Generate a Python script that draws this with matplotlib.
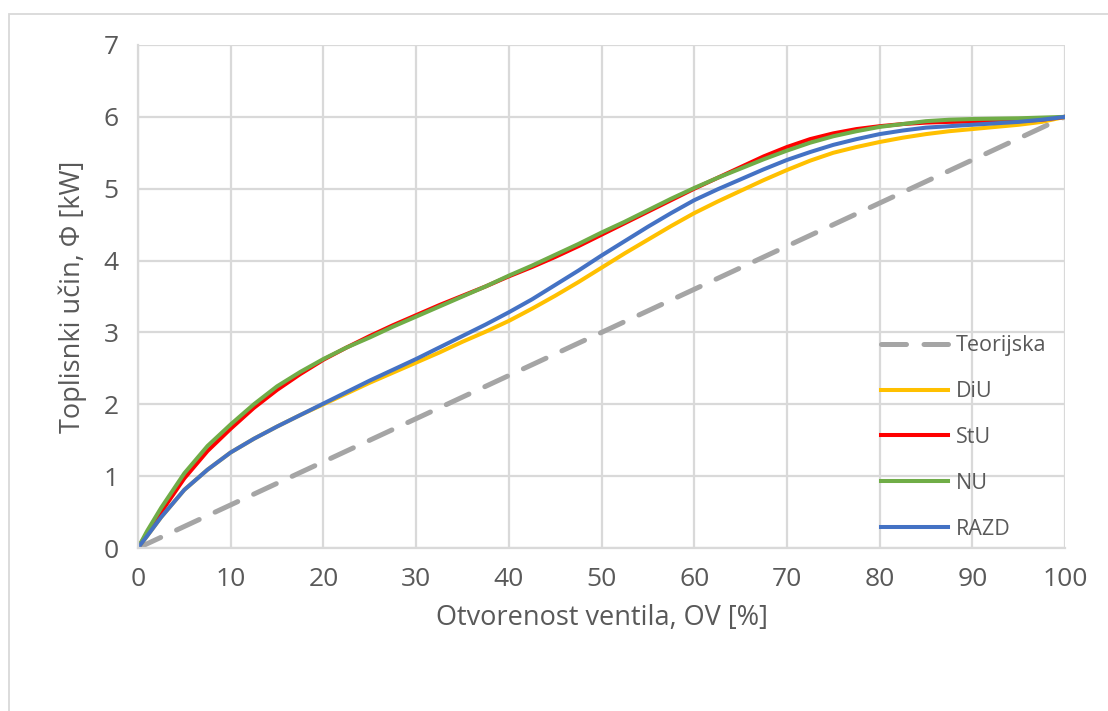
import matplotlib
matplotlib.use("Agg")
import matplotlib.pyplot as plt
from matplotlib.patches import Rectangle

plt.rcParams["font.family"] = ["Open Sans", "DejaVu Sans"]

# otvorenost ventila [%]
ov = [0, 1, 2.5, 5, 7.5, 10, 12.5, 15, 17.5, 20, 22.5, 25, 27.5, 30, 32.5,
      35, 37.5, 40, 42.5, 45, 47.5, 50, 52.5, 55, 57.5, 60, 62.5, 65, 67.5,
      70, 72.5, 75, 77.5, 80, 82.5, 85, 87.5, 90, 92.5, 95, 97.5, 100]

# toplinski ucin [kW]
teorijska_ov = [0, 100]
teorijska = [0, 6]
diu = [0, 0.17, 0.43, 0.81, 1.09, 1.33, 1.52, 1.69, 1.85, 2.00, 2.15, 2.30,
       2.44, 2.58, 2.72, 2.87, 3.01, 3.16, 3.33, 3.51, 3.70, 3.90, 4.10, 4.29,
       4.48, 4.66, 4.82, 4.97, 5.12, 5.26, 5.39, 5.50, 5.58, 5.65, 5.71, 5.76,
       5.80, 5.83, 5.86, 5.89, 5.93, 6.00]
stu = [0, 0.21, 0.50, 0.97, 1.35, 1.66, 1.95, 2.20, 2.42, 2.62, 2.79, 2.95,
       3.10, 3.24, 3.38, 3.51, 3.64, 3.78, 3.91, 4.05, 4.20, 4.36, 4.52, 4.68,
       4.84, 5.00, 5.15, 5.30, 5.45, 5.58, 5.69, 5.77, 5.83, 5.87, 5.90, 5.92,
       5.93, 5.935, 5.94, 5.94, 5.96, 6.00]
nu = [0, 0.24, 0.56, 1.04, 1.42, 1.72, 2.00, 2.25, 2.45, 2.63, 2.79, 2.93,
      3.08, 3.22, 3.36, 3.50, 3.64, 3.79, 3.93, 4.08, 4.23, 4.39, 4.54, 4.70,
      4.86, 5.01, 5.15, 5.28, 5.41, 5.53, 5.64, 5.73, 5.80, 5.86, 5.90, 5.94,
      5.96, 5.97, 5.975, 5.98, 5.99, 6.00]
razd = [0, 0.17, 0.43, 0.81, 1.09, 1.33, 1.52, 1.69, 1.85, 2.01, 2.17, 2.33,
        2.48, 2.63, 2.79, 2.95, 3.11, 3.28, 3.46, 3.66, 3.86, 4.07, 4.27, 4.47,
        4.66, 4.84, 4.99, 5.13, 5.27, 5.40, 5.51, 5.61, 5.69, 5.76, 5.81, 5.85,
        5.87, 5.89, 5.91, 5.93, 5.96, 6.00]

fig = plt.figure(figsize=(11.08, 7.11), dpi=100)

# okvir grafikona
fig.patches.append(Rectangle((9 / 1108, -0.05), 1.2, 1 - 14 / 711 + 0.05,
                             transform=fig.transFigure, fill=False,
                             edgecolor="#D9D9D9", linewidth=1.3))

ax = fig.add_axes([138 / 1108, 1 - 548 / 711, (1065 - 138) / 1108, (548 - 45) / 711])

ax.plot(teorijska_ov, teorijska, color="#A5A5A5", lw=3.6, ls=(0, (5, 3.5)),
        solid_capstyle="round", dash_capstyle="round", label="Teorijska")
ax.plot(ov, diu, color="#FFC000", lw=2.9, label="DiU")
ax.plot(ov, stu, color="#FF0000", lw=2.9, label="StU")
ax.plot(ov, nu, color="#70AD47", lw=2.9, label="NU")
ax.plot(ov, razd, color="#4472C4", lw=2.9, label="RAZD")

ax.set_xlim(0, 100)
ax.set_ylim(0, 7)
ax.set_xticks(range(0, 101, 10))
ax.set_yticks(range(0, 8))
ax.grid(True, color="#D9D9D9", lw=1.6)
ax.set_axisbelow(True)
for side, sp in ax.spines.items():
    if side in ("top", "right"):
        sp.set_visible(False)
    else:
        sp.set_color("#D9D9D9")
        sp.set_linewidth(1.6)
ax.tick_params(length=0, labelsize=19, labelcolor="#595959", pad=14)

ax.set_xlabel("Otvorenost ventila, OV [%]", fontsize=19.5, color="#595959", labelpad=8)
ax.set_ylabel("Toplisnki učin, Φ [kW]", fontsize=19.5, color="#595959", labelpad=12)

leg = ax.legend(loc="upper left", bbox_to_anchor=(0.781, 0.461), frameon=False,
                fontsize=15.5, handlelength=3.1, handletextpad=0.35,
                labelspacing=1.15, labelcolor="#595959")

fig.savefig("out.png", dpi=100)
